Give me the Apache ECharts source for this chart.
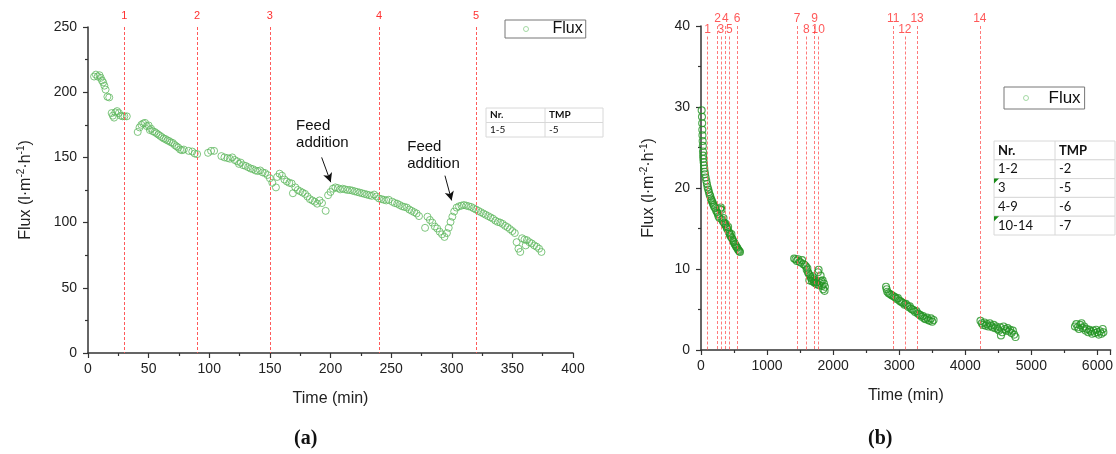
<!DOCTYPE html>
<html>
<head>
<meta charset="utf-8">
<script src="https://cdn.jsdelivr.net/npm/echarts@6/dist/echarts.min.js"></script>
<style>
  html, body { margin: 0; padding: 0; background: #fff; }
  #chart { width: 1116px; height: 454px; }
</style>
</head>
<body>
<div id="chart"></div>
<script>
// ---- (a) single run, flux vs time [min, l/(m2 h)] ----
const fluxA = [
  [5,212],[6.5,213.5],[8,212],[9.5,213],[10.5,211],[11.5,209],[12.5,207.5],[13.5,205],[14.5,202],
  [16,196.5],[17.5,196],[19.5,184],[20.5,182],[21.5,180.5],[22.5,184.5],[24,185.5],[25.5,184],
  [27,182],[28.5,181.5],[30,181.5],[32,181.5],
  [41,169.5],[42.5,173],[44,175],[45.5,176],[47,176.5],[48.5,174],[50,174.5],[51,171],[52,172],
  [53.5,170],[55,169.5],[56.5,168.5],[58,167.5],[59.5,166.5],[61,165.5],[62.5,164.5],[64,164],
  [65.5,163],[67,162.5],[68.5,161.5],[70,161],[71.5,159.5],[73,158.5],[74.5,157.5],[76,156],
  [77.5,155.5],[79,156],[83,155],[86,154.5],[88,153],[90,152.5],
  [99,153.5],[101.5,155],[104,155],[110,151],[112.5,150],[115,149.5],[117,149],[119,150],[121,148],
  [123,147],[124.5,145],[126,146],[128,144],[130,143.5],[132,142.5],[134,141.5],[136,141],[138,140],
  [140,139.5],[142,140],[144,138.5],[146,138],[148,136.5],[150,134],[152,130.5],[155,127],
  [156,135],[158,137.5],[160,136],[162,133],[164,131.5],[166,130.5],[168,130],[169,122.5],[171,127],
  [173,125],[175,124],[177,123],[179,122],[181,120],[183,118],[185,117],[187,116],[189,114.5],
  [191,117],[193,115],[196,109],
  [198,121],[200,123.5],[202,126],[204,127],[206,126.5],[208,125.5],[210,126],[212,125.5],[214,125],
  [216,125],[218,124.5],[220,124],[222,123.5],[224,123],[226,122.5],[228,122],[230,121.5],[232,121],
  [234,120.5],[236,121.5],[238,120],[240,118.5],[242,118],[244,117.5],[246,117],[248,117.5],
  [251,116],[253,115],[255,114.5],[257,113.5],[259,112.5],[261,112],[263,111.5],[265,110],[267,109],
  [269,108],[271,107],[273,105],[278,96],[280,104.5],[282,102],[284,100],[286,97],[288,95.5],
  [290,93],[292,91],[294,89],[296,92],[297.5,96],[299,100.5],[300.5,104.5],[302,108.5],
  [304,111.5],[306,112.5],[308,113],[310,113.5],[312,113],[314,112.5],[316,112],[318,111],[320,110],
  [322,109],[324,108],[326,107],[328,106],[330,105],[332,104],[334,103],[336,101.5],[338,100.5],
  [340,100],[342,99],[344,97.5],[346,96.5],[348,95],[350,93.5],[352,92],[353.5,85],[355,80],
  [356.5,77.5],[358,88],[360,87],[361,82.5],[362,86.5],[364,85],[366,84],[368,82.5],[370,81.5],
  [372,80],[374,77.5]
];
// event times (min) marked 1-5
const eventsA = [30, 90, 150, 240, 320];
const tableA = [['Nr.', 'TMP'], ['1-5', '-5']];
// feed addition notes: [text anchor time, flux], arrow [from], [to]
const feedNotes = [
  { text: [172, 180], from: [192.7, 150], to: [200.2, 131] },
  { text: [263.7, 164], from: [294.4, 136], to: [299.9, 117] }
];

// ---- (b) long run, flux vs time ----
const fluxB = [
  [10,29.6],[15,28.8],[18,28],[20,27.2],[22,26.5],[25,25.8],[28,25.2],[30,24.5],[32,24],[35,23.6],
  [40,23.2],[45,22.8],[50,22.4],[55,22],[60,21.7],[70,21.3],[80,20.9],[90,20.5],[100,20.1],[110,19.8],
  [120,19.5],[130,19.2],[140,19],[150,18.7],[160,18.5],[170,18.3],[180,18.1],[190,17.9],[200,17.7],
  [215,17.5],[230,17.2],[245,17],[255,16.8],[265,16.5],[280,16.3],[290,17.4],[300,17.6],[310,17.3],
  [320,16.1],[330,15.9],[340,16.3],[350,15.7],[360,15.5],[370,15.6],[380,15.3],[390,15.1],[400,14.9],
  [410,15.2],[420,14.6],[430,14.4],[440,14.2],[450,14],[460,14.3],[470,13.8],[480,13.6],[490,13.4],
  [500,13.3],[510,13.1],[520,13.0],[530,12.8],[540,12.7],[550,12.6],[560,12.4],[570,12.3],[580,12.2],
  [590,12.1],
  [1410,11.3],[1430,11.2],[1450,11.0],[1470,11.2],[1490,10.9],[1510,10.8],[1530,11.1],[1550,10.6],
  [1570,10.5],[1590,10.3],[1600,9.9],[1610,10.1],[1620,9.6],[1630,9.4],[1640,8.6],[1650,9.2],
  [1660,9.0],[1670,8.8],[1680,8.5],[1690,9.1],[1700,8.7],[1710,8.4],[1720,8.3],[1730,8.6],[1740,8.2],
  [1750,8.4],[1760,8.1],[1770,9.6],[1780,9.9],[1790,8.0],[1800,8.3],[1810,9.2],[1820,8.5],[1830,7.9],
  [1840,8.6],[1850,7.5],[1860,8.2],[1870,7.3],[1875,7.8],
  [2800,7.8],[2810,7.5],[2820,7.2],[2840,7.0],[2860,6.9],[2880,6.8],[2900,6.7],[2920,6.6],[2940,6.5],
  [2960,6.3],[2980,6.4],[3000,6.1],[3020,6.0],[3040,5.9],[3060,5.8],[3080,5.6],[3100,5.7],[3120,5.5],
  [3140,5.3],[3160,5.4],[3180,5.1],[3200,5.0],[3220,4.9],[3240,4.7],[3260,4.8],[3280,4.5],[3300,4.4],
  [3320,4.3],[3340,4.1],[3360,4.2],[3380,3.9],[3400,3.8],[3420,4.0],[3440,3.7],[3460,3.6],[3480,3.9],
  [3500,3.5],[3520,3.7],
  [4230,3.6],[4250,3.3],[4270,3.1],[4290,3.4],[4310,3.0],[4330,3.2],[4350,2.9],[4370,3.3],[4390,3.0],
  [4410,2.8],[4430,3.1],[4450,2.7],[4470,2.9],[4490,2.6],[4510,2.4],[4530,2.8],[4540,1.8],[4560,2.2],
  [4580,2.9],[4600,2.6],[4620,2.4],[4640,2.7],[4660,2.3],[4680,2.5],[4700,2.1],[4720,2.4],[4740,1.9],
  [4760,1.6],
  [5660,2.9],[5680,3.2],[5700,2.8],[5720,2.6],[5740,3.1],[5760,3.3],[5780,2.7],[5800,2.9],[5820,2.4],
  [5840,2.6],[5860,2.2],[5880,2.5],[5900,2.3],[5920,2.0],[5940,2.4],[5960,2.1],[5980,2.5],[6000,2.2],
  [6020,1.9],[6040,2.3],[6060,2.0],[6080,2.6],[6090,2.2]
];
// event times (min) marked 1-14; second list tells which labels sit on the lower row
const eventsB = [100, 250, 300, 370, 430, 545, 1455, 1595, 1720, 1775, 2910, 3085, 3270, 4220];
const lowerRowB = [1, 3, 5, 8, 10, 12];
const tableB = [['Nr.', 'TMP'], ['1-2', '-2'], ['3', '-5'], ['4-9', '-6'], ['10-14', '-7']];
const flaggedRowsB = [2, 4];

const SANS = '"Liberation Sans", Arial, sans-serif';
const RED = '#ff5a5a';
const HOLLOW = 'rgba(255,255,255,0)';

function axisCommon() {
  return {
    axisLine: { show: true, onZero: false, lineStyle: { color: '#333', width: 1.5 } },
    axisTick: { show: true, inside: false, length: 5, lineStyle: { color: '#333', width: 1.2 } },
    minorTick: { show: true, splitNumber: 2, length: 3, lineStyle: { color: '#333', width: 1.2 } },
    splitLine: { show: false },
    axisLabel: { color: '#222', fontFamily: SANS, fontSize: 14 },
    nameTextStyle: { color: '#222', fontFamily: SANS, fontSize: 16 }
  };
}

const fluxName = '{a|Flux (l·m}{s|-2}{a|·h}{s|-1}{a|)}';
const fluxRich = {
  a: { fontFamily: SANS, fontSize: 16, color: '#222', lineHeight: 20 },
  s: { fontFamily: SANS, fontSize: 10, color: '#222', lineHeight: 12, verticalAlign: 'top' }
};

// vertical event markers: one dashed line per time, label sits above the line's top end
function eventLines(times, yTop, lowerRow, yLower) {
  return times.map((t, i) => {
    const n = i + 1;
    const top = lowerRow && lowerRow.includes(n) ? yLower : yTop;
    return [{ name: String(n), coord: [t, top] }, { coord: [t, 0] }];
  });
}

function tableGraphics(rows, x, y, colW, rowH, fontSize, flagged) {
  const els = [];
  const w = colW[0] + colW[1];
  rows.forEach((r, i) => {
    const ry = y + i * rowH;
    els.push({ type: 'rect', shape: { x: x, y: ry, width: w, height: rowH },
      style: { fill: '#fff', stroke: '#d8d8d8', lineWidth: 1 } });
    els.push({ type: 'line', shape: { x1: x + colW[0], y1: ry, x2: x + colW[0], y2: ry + rowH },
      style: { stroke: '#d8d8d8', lineWidth: 1 } });
    r.forEach((cell, j) => {
      els.push({ type: 'text', x: x + 4 + (j ? colW[0] : 0), y: ry + rowH / 2,
        style: { text: cell, fill: '#111', fontFamily: '"Lato", "Open Sans", sans-serif',
          fontSize: fontSize, fontWeight: i === 0 ? 'bold' : 'normal', verticalAlign: 'middle' } });
    });
    if (flagged && flagged.includes(i)) {
      els.push({ type: 'polygon', shape: { points: [[x, ry], [x + 5, ry], [x, ry + 5]] },
        style: { fill: '#168a16' } });
    }
  });
  return els;
}

const chart = echarts.init(document.getElementById('chart'), null, { renderer: 'canvas' });

const panelTag = {
  p: { fontFamily: '"Liberation Serif", serif', fontSize: 20, color: '#111' },
  b: { fontFamily: '"Liberation Serif", serif', fontSize: 20, fontWeight: 'bold', color: '#111' }
};

const option = {
  animation: false,
  backgroundColor: '#fff',
  title: [
    { text: '{p|(}{b|a}{p|)}', left: 289, top: 424, textStyle: { rich: panelTag } },
    { text: '{p|(}{b|b}{p|)}', left: 863, top: 424, textStyle: { rich: panelTag } }
  ],
  legend: [
    { data: ['Flux'], left: 505, top: 20, orient: 'horizontal', selectedMode: false,
      icon: 'circle', itemWidth: 5, itemHeight: 5,
      itemStyle: { color: HOLLOW, borderColor: '#8fd08f', borderWidth: 1 },
      borderColor: '#777', borderWidth: 1, borderRadius: 0, padding: [1, 3, 1, 18],
      textStyle: { fontFamily: SANS, fontSize: 16, color: '#111', padding: [0, 0, 0, 19], lineHeight: 15 } },
    { data: ['Flux'], left: 1004, top: 87, orient: 'horizontal', selectedMode: false,
      icon: 'circle', itemWidth: 5, itemHeight: 5,
      itemStyle: { color: HOLLOW, borderColor: '#8fd08f', borderWidth: 1 },
      borderColor: '#777', borderWidth: 1, borderRadius: 0, padding: [2, 4, 2, 19],
      textStyle: { fontFamily: SANS, fontSize: 17, color: '#111', padding: [0, 0, 0, 15], lineHeight: 18 } }
  ],
  grid: [
    { left: 88, top: 27, width: 485, height: 326 },
    { left: 701, top: 26, width: 413, height: 324 }
  ],
  xAxis: [
    Object.assign(axisCommon(), { type: 'value', gridIndex: 0, min: 0, max: 400, interval: 50,
      name: 'Time (min)', nameLocation: 'middle', nameGap: 38 }),
    Object.assign(axisCommon(), { type: 'value', gridIndex: 1, min: 0, max: 6200, interval: 1000,
      name: 'Time (min)', nameLocation: 'middle', nameGap: 38 })
  ],
  yAxis: [
    Object.assign(axisCommon(), { type: 'value', gridIndex: 0, min: 0, max: 250, interval: 50,
      name: fluxName, nameLocation: 'middle', nameGap: 52, nameRotate: 90 }),
    Object.assign(axisCommon(), { type: 'value', gridIndex: 1, min: 0, max: 40, interval: 10,
      name: fluxName, nameLocation: 'middle', nameGap: 42, nameRotate: 90 })
  ],
  graphic: [].concat(
    tableGraphics(tableA, 486, 108, [59, 58], 14.5, 10, null),
    tableGraphics(tableB, 994, 141, [61, 60], 18.8, 13, flaggedRowsB)
  ),
  series: [
    { name: 'Flux', type: 'scatter', xAxisIndex: 0, yAxisIndex: 0, data: fluxA, z: 3,
      symbol: 'circle', symbolSize: 7,
      itemStyle: { color: HOLLOW, borderColor: '#5fb85f', borderWidth: 1 },
      markPoint: {
        silent: true, symbol: 'circle', symbolSize: 1, itemStyle: { color: 'rgba(0,0,0,0)' },
        label: { show: true, position: [0, 0], align: 'left', verticalAlign: 'top',
          formatter: 'Feed\naddition', fontFamily: SANS, fontSize: 15, lineHeight: 17, color: '#111' },
        data: feedNotes.map(f => ({ coord: f.text }))
      },
      markLine: {
        silent: true, symbol: ['none', 'arrow'], symbolSize: [7, 9],
        lineStyle: { color: '#111', width: 1, type: 'solid' },
        label: { show: false },
        data: feedNotes.map(f => [{ coord: f.from }, { coord: f.to }])
      }
    },
    { name: 'events-a', type: 'line', xAxisIndex: 0, yAxisIndex: 0, data: [], z: 2,
      markLine: {
        silent: true, symbol: ['none', 'none'],
        lineStyle: { color: RED, width: 1, type: [3, 2] },
        label: { show: true, position: 'start', distance: 6, formatter: '{b}',
          color: '#ff3030', fontFamily: SANS, fontSize: 11 },
        data: eventLines(eventsA, 250, null, 250)
      }
    },
    { name: 'Flux', type: 'scatter', xAxisIndex: 1, yAxisIndex: 1, data: fluxB, z: 3,
      symbol: 'circle', symbolSize: 7,
      itemStyle: { color: HOLLOW, borderColor: '#239423', borderWidth: 1.1 } },
    { name: 'events-b', type: 'line', xAxisIndex: 1, yAxisIndex: 1, data: [], z: 2,
      markLine: {
        silent: true, symbol: ['none', 'none'],
        lineStyle: { color: RED, width: 1, type: [3, 2], opacity: 0.8 },
        label: { show: true, position: 'start', distance: 1, formatter: '{b}',
          color: '#ff3030', fontFamily: SANS, fontSize: 12 },
        data: eventLines(eventsB, 40, lowerRowB, 38.7)
      }
    }
  ]
};

option.xAxis[1].axisLabel.formatter = v => (v % 1000 === 0 ? String(v) : '');
option.xAxis.forEach(a => { a.axisLabel.margin = 9; });
option.yAxis.forEach(a => { a.axisLabel.margin = 11; a.nameTextStyle.rich = fluxRich; });

chart.setOption(option);
</script>
</body>
</html>
